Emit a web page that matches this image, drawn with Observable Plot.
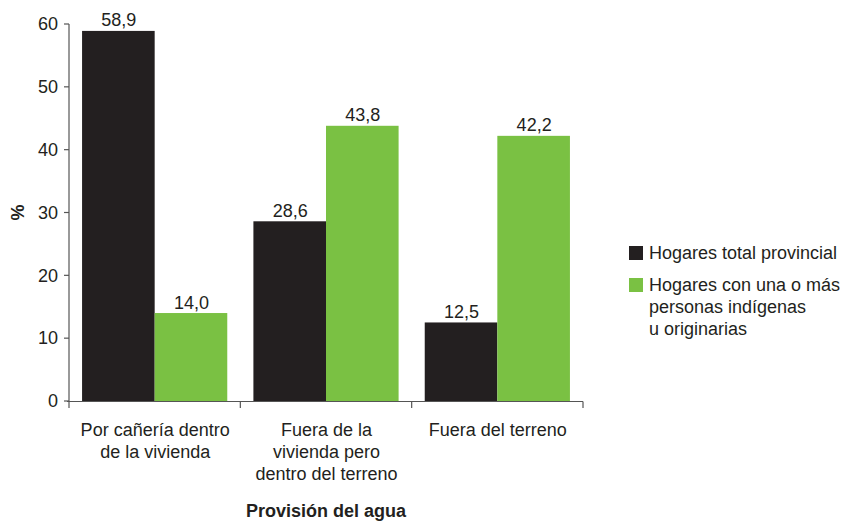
<!DOCTYPE html>
<html>
<head>
<meta charset="utf-8">
<script src="https://cdn.jsdelivr.net/npm/d3@7"></script>
<script src="https://cdn.jsdelivr.net/npm/@observablehq/plot@0.6"></script>
<style>
  html, body { margin: 0; padding: 0; background: #fff; }
  #wrap { position: relative; width: 847px; height: 522px; font-family: "Liberation Sans", Arial, Helvetica, sans-serif; color: #231f20; }
  #legend { position: absolute; left: 629px; top: 242px; font-size: 18px; line-height: 22px; }
  .item { display: flex; align-items: flex-start; margin-bottom: 10px; }
  .sw { width: 14px; height: 14px; margin-top: 4px; margin-right: 6px; flex: none; }
</style>
</head>
<body>
<div id="wrap"><div id="chart"></div><div id="legend"></div></div>
<script>
const groups = ["Por cañería dentro de la vivienda", "Fuera de la vivienda pero dentro del terreno", "Fuera del terreno"];
const groupLabels = ["Por cañería dentro\nde la vivienda", "Fuera de la\nvivienda pero\ndentro del terreno", "Fuera del terreno"];
const series = ["Hogares total provincial", "Hogares con una o más personas indígenas u originarias"];
const seriesLegend = ["Hogares total provincial", "Hogares con una o más<br>personas indígenas<br>u originarias"];
const totalValues = [58.9, 28.6, 12.5];
const indigenousValues = [14.0, 43.8, 42.2];
const colors = ["#231f20", "#7ac143"];
const yTicks = [0, 10, 20, 30, 40, 50, 60];
const yLabel = "%";
const xLabel = "Provisión del agua";

const data = [];
groups.forEach((g, i) => {
  data.push({group: g, series: series[0], value: totalValues[i]});
  data.push({group: g, series: series[1], value: indigenousValues[i]});
});
const fmt = v => v.toFixed(1).replace(".", ",");
const ink = "#231f20";
const fs = 18;

const plot = Plot.plot({
  width: 847, height: 522,
  marginLeft: 69, marginRight: 264, marginTop: 24, marginBottom: 121,
  style: {fontFamily: "'Liberation Sans', Arial, Helvetica, sans-serif", fontSize: fs + "px", color: ink, background: "white"},
  fx: {domain: groups, padding: 0, label: null, round: false},
  x: {domain: series, paddingInner: 0, paddingOuter: 0.18, axis: null, round: false},
  y: {domain: [0, 60], axis: null},
  color: {domain: series, range: colors},
  marks: [
    Plot.barY(data, {fx: "group", x: "series", y: "value", fill: "series"}),
    Plot.text(data, {fx: "group", x: "series", y: "value", text: d => fmt(d.value), lineAnchor: "bottom", dy: -5, fontSize: fs, fill: ink}),
    Plot.axisFx({anchor: "bottom", tickSize: 0, tickPadding: 19, label: null, tickFormat: d => groupLabels[groups.indexOf(d)], lineHeight: 1.22, fontSize: fs, fill: ink})
  ]
});

const svg = d3.select(plot);
const y = plot.scale("y");
const fx = plot.scale("fx");
const x0 = 69, x1 = 847 - 264;
const y0 = y.apply(0);
const g = svg.append("g").attr("stroke", "#555").attr("stroke-width", 1.2);
// y axis line + ticks
g.append("line").attr("x1", x0).attr("x2", x0).attr("y1", y.apply(60)).attr("y2", y0);
yTicks.forEach(t => {
  g.append("line").attr("x1", x0 - 5).attr("x2", x0).attr("y1", y.apply(t)).attr("y2", y.apply(t));
  svg.append("text").attr("x", x0 - 11).attr("y", y.apply(t)).attr("dy", "0.35em").attr("text-anchor", "end")
     .attr("fill", ink).attr("font-size", fs).text(t);
});
// x axis line + boundary ticks
g.append("line").attr("x1", x0 - 2).attr("x2", x1).attr("y1", y0 + 0.5).attr("y2", y0 + 0.5);
const bw = fx.bandwidth;
const bounds = groups.map(d => fx.apply(d)).concat([fx.apply(groups[groups.length - 1]) + bw]);
bounds.forEach(b => {
  g.append("line").attr("x1", b).attr("x2", b).attr("y1", y0 + 0.5).attr("y2", y0 + 7);
});
// axis titles
svg.append("text").attr("transform", `translate(18,${(y.apply(60) + y0) / 2}) rotate(-90)`)
   .attr("text-anchor", "middle").attr("dy", "0.35em").attr("font-weight", "bold").attr("font-size", fs)
   .attr("fill", ink).text(yLabel);
svg.append("text").attr("x", (x0 + x1) / 2).attr("y", 511).attr("dy", "0.35em").attr("text-anchor", "middle")
   .attr("font-weight", "bold").attr("font-size", fs).attr("fill", ink).text(xLabel);

document.getElementById("chart").appendChild(plot);

const legend = document.getElementById("legend");
series.forEach((s, i) => {
  const item = document.createElement("div");
  item.className = "item";
  item.innerHTML = `<span class="sw" style="background:${colors[i]}"></span><span>${seriesLegend[i]}</span>`;
  legend.appendChild(item);
});
</script>
</body>
</html>
